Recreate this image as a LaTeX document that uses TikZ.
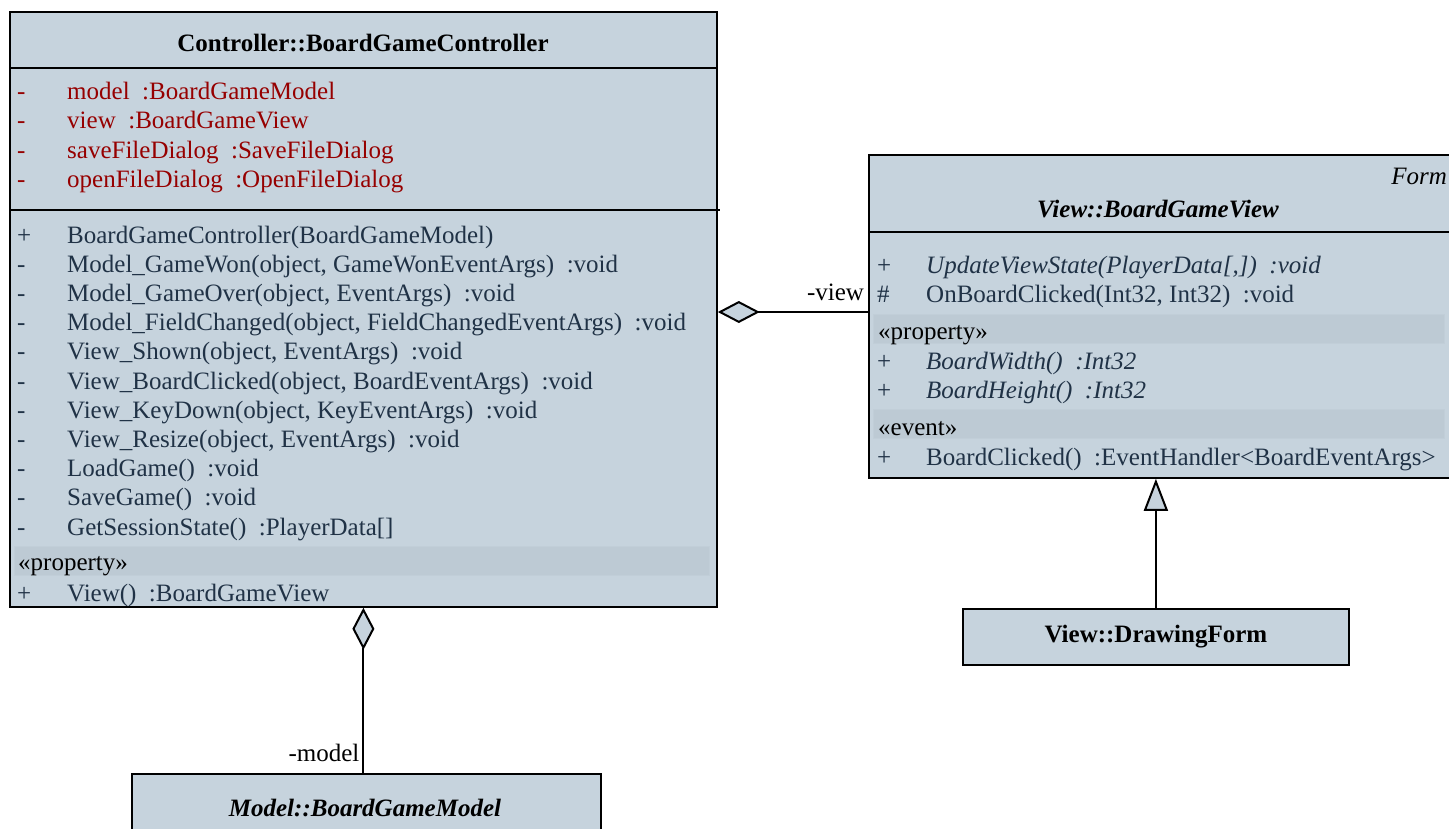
\documentclass[tikz,border=0pt]{standalone}
\usepackage{fontspec}
\setmainfont{Liberation Serif}
\usetikzlibrary{arrows.meta,positioning}
\definecolor{classfill}{RGB}{198,211,221}
\definecolor{bandfill}{RGB}{189,202,212}
\definecolor{membertext}{RGB}{32,50,70}
\definecolor{fieldtext}{RGB}{150,0,0}
\newcommand\umlsize{\fontsize{25}{29}\selectfont}
\tikzset{
  classbox/.style={draw,line width=1.8pt,fill=classfill,anchor=north west,inner sep=0pt},
  sep/.style={line width=1.8pt},
  band/.style={fill=bandfill,draw=bandfill!60!classfill,line width=1pt},
  member/.style={anchor=base west,inner sep=0pt,text=membertext,font=\umlsize},
  field/.style={member,text=fieldtext},
  stereo/.style={anchor=base west,inner sep=0pt,font=\umlsize},
  classname/.style={inner sep=0pt,font=\umlsize\bfseries},
  rolename/.style={anchor=south east,inner sep=3pt,yshift=7pt,font=\umlsize},
  aggr/.style={line width=2pt,{Diamond[length=42pt,width=22pt,fill=classfill]}-},
  gen/.style={line width=2pt,-{Triangle[length=32pt,width=24pt,fill=classfill]}}
}
\begin{document}
\begin{tikzpicture}[x=1pt,y=-1pt]
\useasboundingbox[fill=white] (0,0) rectangle (1449,828);

% classes
\node[classbox,minimum width=707pt,minimum height=595pt] (ctrl) at (9,11) {};
\node[classbox,minimum width=582pt,minimum height=323pt] (view) at (868,154) {};
\node[classbox,minimum width=469pt,minimum height=80pt] (model) at (131,773) {};
\node[classbox,minimum width=386pt,minimum height=56pt] (drawing) at (962,608) {};

% Controller::BoardGameController
\node[classname] (ctrlname) at (363,43) {Controller::BoardGameController};
\draw[sep] (ctrl.west |- 0,68) -- (ctrl.east |- 0,68);
\draw[sep] (ctrl.west |- 0,210) -- (720,210);
\foreach \txt [count=\i from 0] in {
  {model~ :BoardGameModel},
  {view~ :BoardGameView},
  {saveFileDialog~ :SaveFileDialog},
  {openFileDialog~ :OpenFileDialog}}{
  \node[field] (cfv\i) at (17,{99+29.6*\i}) {-};
  \node[field] (cf\i) at (67,{99+29.6*\i}) {\txt};
}
\foreach \vis/\txt [count=\i from 0] in {
  {+}/{BoardGameController(BoardGameModel)},
  {-}/{Model\_GameWon(object, GameWonEventArgs)~ :void},
  {-}/{Model\_GameOver(object, EventArgs)~ :void},
  {-}/{Model\_FieldChanged(object, FieldChangedEventArgs)~ :void},
  {-}/{View\_Shown(object, EventArgs)~ :void},
  {-}/{View\_BoardClicked(object, BoardEventArgs)~ :void},
  {-}/{View\_KeyDown(object, KeyEventArgs)~ :void},
  {-}/{View\_Resize(object, EventArgs)~ :void},
  {-}/{LoadGame()~ :void},
  {-}/{SaveGame()~ :void},
  {-}/{GetSessionState()~ :PlayerData[]}}{
  \node[member] (cov\i) at (17,{243+29.2*\i}) {\vis};
  \node[member] (co\i) at (67,{243+29.2*\i}) {\txt};
}
\draw[band] (14,546) rectangle (709,575);
\node[stereo] (cprop) at (18,570) {«property»};
\node[member] (cpv) at (17,601) {+};
\node[member] (cp) at (67,601) {View()~ :BoardGameView};

% View::BoardGameView
\node[classname,font=\umlsize\itshape,anchor=east] (viewbase) at (1447,176) {Form};
\node[classname,font=\umlsize\bfseries\itshape] (viewname) at (1158,209) {View::BoardGameView};
\draw[sep] (view.west |- 0,232) -- (view.east |- 0,232);
\node[member] (vo0v) at (877,273) {+};
\node[member] (vo0) at (926,273) {\itshape UpdateViewState(PlayerData[,])~ :void};
\node[member] (vo1v) at (877,302) {\#};
\node[member] (vo1) at (926,302) {OnBoardClicked(Int32, Int32)~ :void};
\draw[band] (873,314) rectangle (1444,343);
\node[stereo] (vprop) at (878,339) {«property»};
\node[member] (vp0v) at (877,369) {+};
\node[member] (vp0) at (926,369) {\itshape BoardWidth()~ :Int32};
\node[member] (vp1v) at (877,398) {+};
\node[member] (vp1) at (926,398) {\itshape BoardHeight()~ :Int32};
\draw[band] (873,409) rectangle (1444,438);
\node[stereo] (vevent) at (878,435) {«event»};
\node[member] (vev) at (877,465) {+};
\node[member] (ve) at (926,465) {BoardClicked()~ :EventHandler<BoardEventArgs>};

% Model::BoardGameModel and View::DrawingForm
\node[classname,font=\umlsize\bfseries\itshape] (modelname) at (365,808) {Model::BoardGameModel};
\node[classname] (drawingname) at (drawing.center) {View::DrawingForm};

% relations
\draw[aggr] (ctrl.east |- 0,312) -- (view.west |- 0,312) node[rolename,pos=1] {-view};
\draw[aggr] (ctrl.south) -- (ctrl.south |- model.north) node[rolename,pos=1] {-model};
\draw[gen] (drawing.north) -- (drawing.north |- view.south);
\end{tikzpicture}
\end{document}
